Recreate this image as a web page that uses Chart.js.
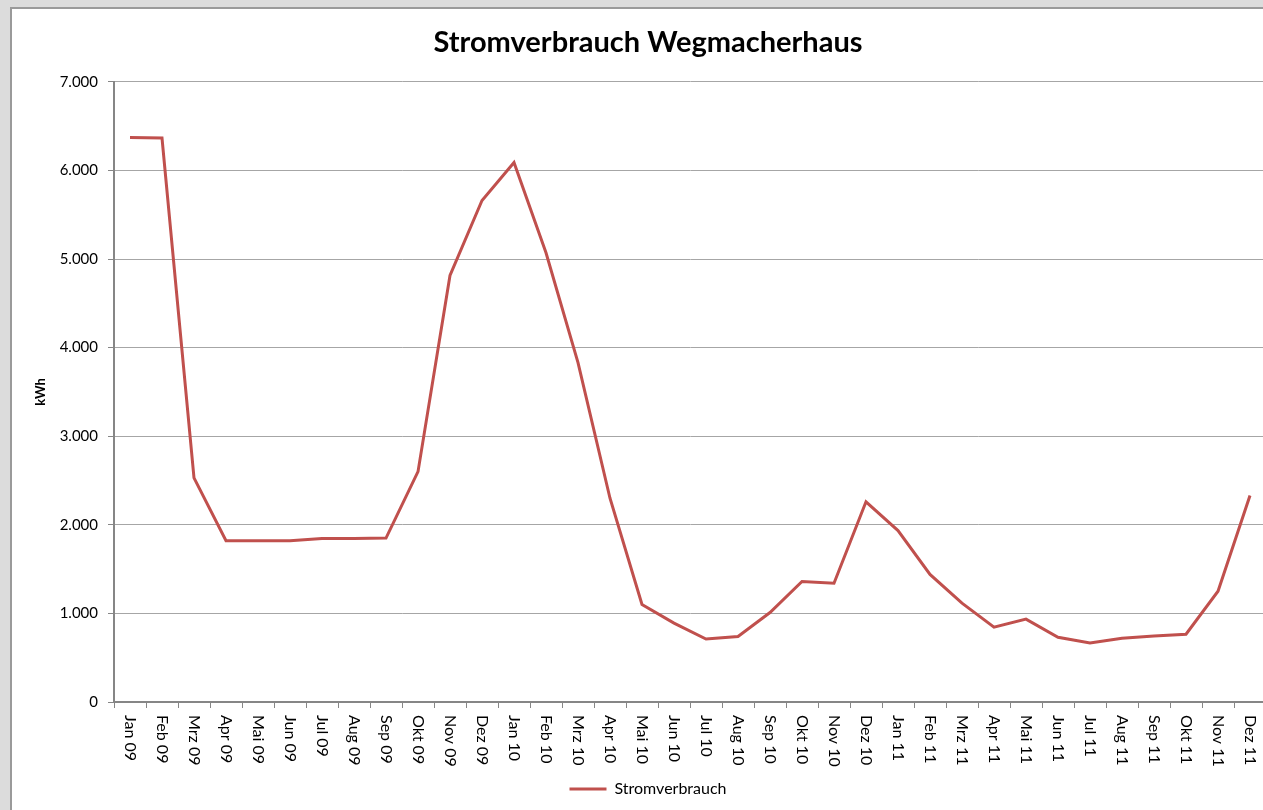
<!DOCTYPE html>
<html>
<head>
<meta charset="utf-8">
<script src="https://cdn.jsdelivr.net/npm/chart.js@4.4.1/dist/chart.umd.min.js"></script>
<style>
  html, body { margin: 0; padding: 0; overflow: hidden; }
  body { background: #dcdcdc; width: 1263px; height: 810px; position: relative; }
  #box {
    position: absolute; left: 10px; top: 7px; width: 1280px; height: 820px;
    background: #fff; border-left: 2px solid #9a9a9a; border-top: 2px solid #9a9a9a;
  }
  #wrap { position: absolute; left: 0; top: 0; width: 1270px; height: 815px; }
</style>
</head>
<body>
<div id="box"><div id="wrap"><canvas id="stromChart"></canvas></div></div>
<script>
// Monate Jan 09 - Dez 11
const monate = ['Jan 09', 'Feb 09', 'Mrz 09', 'Apr 09', 'Mai 09', 'Jun 09', 'Jul 09', 'Aug 09', 'Sep 09', 'Okt 09', 'Nov 09', 'Dez 09',
  'Jan 10', 'Feb 10', 'Mrz 10', 'Apr 10', 'Mai 10', 'Jun 10', 'Jul 10', 'Aug 10', 'Sep 10', 'Okt 10', 'Nov 10', 'Dez 10',
  'Jan 11', 'Feb 11', 'Mrz 11', 'Apr 11', 'Mai 11', 'Jun 11', 'Jul 11', 'Aug 11', 'Sep 11', 'Okt 11', 'Nov 11', 'Dez 11'];

// Verbrauch in kWh
const verbrauch = [6370, 6365, 2530, 1820, 1820, 1820, 1845, 1845, 1850, 2600, 4815, 5660,
  6090, 5070, 3830, 2300, 1100, 890, 710, 740, 1010, 1360, 1340, 2260,
  1935, 1440, 1115, 845, 935, 730, 665, 720, 745, 765, 1250, 2330];

const yMin = 0;
const yMax = 7000;
const yStep = 1000;

const fontFam = 'Lato, "Open Sans", sans-serif';

// x-Beschriftung im Uhrzeigersinn gedreht (wie Excel)
const xLabelPlugin = {
  id: 'xLabels',
  afterDraw(chart) {
    const sx = chart.scales.x;
    const c = chart.ctx;
    c.save();
    c.font = '16px ' + fontFam;
    c.fillStyle = '#000';
    c.textAlign = 'left';
    c.textBaseline = 'middle';
    monate.forEach((m, i) => {
      const px = sx.getPixelForValue(i);
      c.save();
      c.translate(px, sx.top + 13);
      c.rotate(Math.PI / 2);
      c.fillText(m, 0, 0);
      c.restore();
    });
    c.restore();
  }
};

const ctx = document.getElementById('stromChart').getContext('2d');
new Chart(ctx, {
  type: 'line',
  data: {
    labels: monate,
    datasets: [{
      label: 'Stromverbrauch',
      data: verbrauch,
      borderColor: '#c0504d',
      backgroundColor: '#c0504d',
      borderWidth: 3,
      pointRadius: 0,
      tension: 0,
      fill: false
    }]
  },
  options: {
    responsive: true,
    maintainAspectRatio: false,
    animation: false,
    layout: { padding: { left: 18, right: 16, top: 0, bottom: 17 } },
    plugins: {
      title: {
        display: true,
        text: 'Stromverbrauch Wegmacherhaus',
        color: '#000',
        font: { family: fontFam, size: 29, weight: 'bold' },
        padding: { top: 16, bottom: 22 }
      },
      legend: {
        position: 'bottom',
        labels: {
          color: '#000',
          font: { family: fontFam, size: 16 },
          usePointStyle: true,
          pointStyle: 'line',
          pointStyleWidth: 37,
          boxHeight: 10,
          padding: 6
        }
      },
      tooltip: { enabled: false }
    },
    scales: {
      x: {
        offset: true,
        grid: { display: true, drawOnChartArea: false, drawTicks: true, tickLength: 6, offset: true, color: '#868686', lineWidth: 1 },
        border: { color: '#868686', width: 2 },
        ticks: { display: false, autoSkip: false },
        afterFit(scale) { scale.height = 73; }
      },
      y: {
        min: yMin,
        max: yMax,
        title: {
          display: true,
          text: 'kWh',
          color: '#000',
          font: { family: fontFam, size: 13, weight: 'bold' },
          padding: { top: 3, bottom: 0 }
        },
        ticks: {
          stepSize: yStep,
          color: '#000',
          font: { family: fontFam, size: 15 },
          padding: 10,
          callback: v => v.toLocaleString('de-DE')
        },
        grid: { color: '#a6a6a6', lineWidth: 1, tickLength: 6, tickColor: '#868686' },
        border: { color: '#868686', width: 2 },
        afterFit(scale) { scale.width = 84; }
      }
    }
  },
  plugins: [xLabelPlugin]
});
</script>
</body>
</html>
